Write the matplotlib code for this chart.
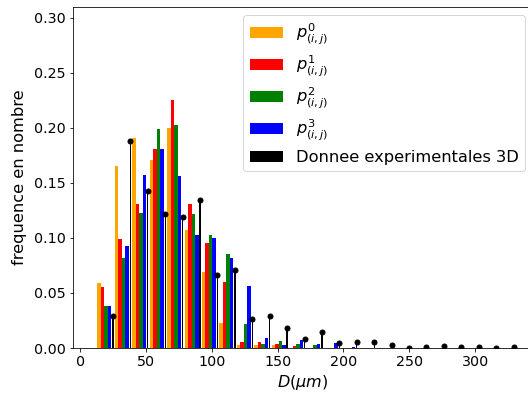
import numpy as np
import matplotlib
matplotlib.use("Agg")
import matplotlib.pyplot as plt

bin_width = 13.23
bin_index = np.arange(1, 25)

p0 = [0.059, 0.165, 0.191, 0.171, 0.200, 0.107, 0.069, 0.023, 0.003, 0.003, 0.003, 0.0,
      0.0, 0.0, 0.0, 0.0, 0.0, 0.0, 0.0, 0.0, 0.0, 0.0, 0.0, 0.0]
p1 = [0.055, 0.099, 0.131, 0.181, 0.225, 0.131, 0.095, 0.060, 0.005, 0.005, 0.004, 0.0015,
      0.0, 0.0, 0.0, 0.0, 0.0, 0.0, 0.0, 0.0, 0.0, 0.0, 0.0, 0.0]
p2 = [0.038, 0.082, 0.123, 0.199, 0.203, 0.122, 0.103, 0.085, 0.022, 0.004, 0.006, 0.004,
      0.0025, 0.0, 0.0, 0.0, 0.0, 0.0, 0.0, 0.0, 0.0, 0.0, 0.0, 0.0]
p3 = [0.038, 0.093, 0.157, 0.181, 0.156, 0.103, 0.100, 0.082, 0.056, 0.009, 0.003, 0.007,
      0.004, 0.0045, 0.0005, 0.0, 0.0, 0.0, 0.0, 0.0, 0.0, 0.0, 0.0, 0.0]
exp3d = [0.029, 0.188, 0.143, 0.122, 0.119, 0.134, 0.066, 0.071, 0.026, 0.029, 0.018, 0.0085,
         0.0143, 0.0049, 0.0052, 0.0052, 0.0027, 0.0003, 0.0005, 0.0015, 0.0005, 0.001, 0.0004, 0.0005]

labels = [r"$p^0_{(i,j)}$", r"$p^1_{(i,j)}$", r"$p^2_{(i,j)}$", r"$p^3_{(i,j)}$",
          "Donnee experimentales 3D"]
colors = ["orange", "red", "green", "blue", "black"]

fig = plt.figure(figsize=(528 / 72, 396 / 72), dpi=72)
ax = fig.add_axes([72.7 / 528, 1 - 348 / 396, (533 - 72.7) / 528, (348 - 6.7) / 396])

x0 = bin_index * bin_width
bw = bin_width / 5
for j, (vals, c, lab) in enumerate(zip([p0, p1, p2, p3], colors[:4], labels[:4])):
    ax.bar(x0 + j * bw, vals, width=bw, align="edge", color=c, label=lab)

xe = x0 + 0.885 * bin_width
ax.bar(xe, exp3d, width=1.0, color="black", label=labels[4])
ax.plot(xe, exp3d, "o", color="black", markersize=5, linestyle="none")

ax.set_xlim(-5.6, 344)
ax.set_ylim(0, 0.31)
ax.set_xticks([0, 50, 100, 150, 200, 250, 300])
ax.set_yticks([0.0, 0.05, 0.10, 0.15, 0.20, 0.25, 0.30])
ax.set_yticklabels(["0.00", "0.05", "0.10", "0.15", "0.20", "0.25", "0.30"])
ax.tick_params(labelsize=14.2)
ax.set_xlabel(r"$D(\mu m)$", fontsize=16)
ax.set_ylabel("frequence en nombre", fontsize=16.3, labelpad=7)

ax.legend(loc="upper right", bbox_to_anchor=(525 / 528, 1 - 15 / 396),
          bbox_transform=fig.transFigure, borderaxespad=0, fontsize=16.3,
          labelspacing=0.43)

fig.savefig("out.png", dpi=72)
